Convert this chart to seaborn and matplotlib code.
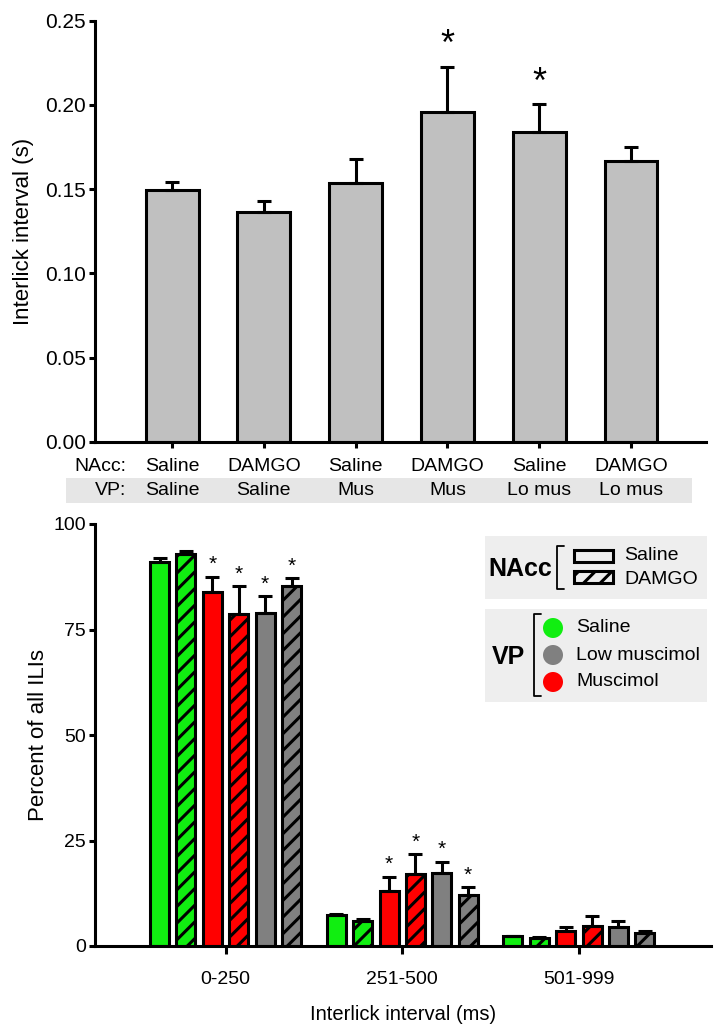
"""
Interlick interval figure: mean ILI per condition (top) and ILI distribution (bottom).
"""
import matplotlib
matplotlib.use("Agg")
import matplotlib.pyplot as plt
import numpy as np
import pandas as pd
import seaborn as sns
from matplotlib.patches import Rectangle, Circle

# ---- top panel data ----
top_nacc = ["Saline", "DAMGO", "Saline", "DAMGO", "Saline", "DAMGO"]
top_vp = ["Saline", "Saline", "Mus", "Mus", "Lo mus", "Lo mus"]
top_mean = [0.1494, 0.1364, 0.1538, 0.1956, 0.1839, 0.1669]
top_sem = [0.0046, 0.0065, 0.0139, 0.0271, 0.0164, 0.0083]
top_sig = [False, False, False, True, True, False]

# ---- bottom panel data ----
bins = ["0-250", "251-500", "501-999"]
cond_names = ["Sal/Sal", "DAMGO/Sal", "Sal/Mus", "DAMGO/Mus", "Sal/Lo", "DAMGO/Lo"]
cond_colors = ["#11ee11", "#11ee11", "#ff0000", "#ff0000", "#808080", "#808080"]
cond_hatched = [False, True, False, True, False, True]
pct_mean = {
    "Sal/Sal": [91.1, 7.3, 2.3],
    "DAMGO/Sal": [92.9, 5.9, 1.9],
    "Sal/Mus": [83.8, 13.1, 3.6],
    "DAMGO/Mus": [78.6, 17.0, 4.8],
    "Sal/Lo": [79.0, 17.2, 4.4],
    "DAMGO/Lo": [85.3, 12.2, 3.1],
}
pct_sem = {
    "Sal/Sal": [0.8, 0.4, 0.15],
    "DAMGO/Sal": [0.8, 0.4, 0.15],
    "Sal/Mus": [3.7, 3.3, 0.8],
    "DAMGO/Mus": [6.7, 4.8, 2.2],
    "Sal/Lo": [3.9, 2.8, 1.6],
    "DAMGO/Lo": [1.8, 1.7, 0.4],
}
pct_sig = {
    "Sal/Sal": [False, False, False],
    "DAMGO/Sal": [False, False, False],
    "Sal/Mus": [True, True, False],
    "DAMGO/Mus": [True, True, False],
    "Sal/Lo": [True, True, False],
    "DAMGO/Lo": [True, True, False],
}

sns.set_theme(style="ticks")
plt.rcParams["font.family"] = ["Liberation Sans", "DejaVu Sans"]
plt.rcParams["hatch.linewidth"] = 2.2
for k in ("text.color", "axes.labelcolor", "xtick.color", "ytick.color"):
    plt.rcParams[k] = "black"
LW = 2.2
HATCH = "//"

fig = plt.figure(figsize=(7.2, 10.3), dpi=100)
ax1 = fig.add_axes([95 / 720, 1 - 441.7 / 1030, 611 / 720, 421 / 1030])
ax2 = fig.add_axes([95 / 720, 1 - 946 / 1030, 616 / 720, 422 / 1030])


def style_axes(ax):
    sns.despine(ax=ax)
    for s in ("left", "bottom"):
        ax.spines[s].set_linewidth(LW)
        ax.spines[s].set_color("black")
    ax.tick_params(axis="both", width=LW, length=4.5, color="black")


# ---- top panel ----
top_df = pd.DataFrame({"cond": [f"{a}\n{b}" for a, b in zip(top_nacc, top_vp)], "ili": top_mean})
sns.barplot(data=top_df, x="cond", y="ili", color="#c0c0c0", width=0.577,
            errorbar=None, edgecolor="black", linewidth=LW, saturation=1, ax=ax1)
for p in ax1.patches:
    p.set_facecolor("#c0c0c0")
xs = np.arange(len(top_mean))
ax1.errorbar(xs, top_mean, yerr=[np.zeros(len(top_sem)), top_sem], fmt="none",
             ecolor="black", elinewidth=LW, capsize=5, capthick=LW, zorder=1)
for x, m, e, s in zip(xs, top_mean, top_sem, top_sig):
    if s:
        ax1.text(x, m + e + 0.002, "*", ha="center", va="bottom", fontsize=26)
ax1.set_xlim(-0.839, 5.817)
ax1.set_ylim(0, 0.25)
ax1.set_yticks([0, 0.05, 0.10, 0.15, 0.20, 0.25])
ax1.set_yticklabels(["0.00", "0.05", "0.10", "0.15", "0.20", "0.25"], fontsize=15)
ax1.set_xticks(xs)
ax1.set_xticklabels([])
ax1.set_xlabel("")
ax1.set_ylabel("Interlick interval (s)", fontsize=16, labelpad=8)
style_axes(ax1)
ax1.tick_params(axis="y", pad=2)

xt = ax1.get_xaxis_transform()
ax1.add_patch(Rectangle((-0.047, -0.145), 1.024, 0.059, transform=ax1.transAxes,
                        facecolor="#e6e6e6", edgecolor="none", clip_on=False, zorder=0))
ax1.text(-0.50, -0.058, "NAcc:", transform=xt, ha="right", va="center", fontsize=14, clip_on=False)
ax1.text(-0.50, -0.117, "VP:", transform=xt, ha="right", va="center", fontsize=14, clip_on=False)
for x, a, b in zip(xs, top_nacc, top_vp):
    ax1.text(x, -0.058, a, transform=xt, ha="center", va="center", fontsize=14, clip_on=False)
    ax1.text(x, -0.117, b, transform=xt, ha="center", va="center", fontsize=14, clip_on=False)

# ---- bottom panel ----
rows = []
for c in cond_names:
    for b, v in zip(bins, pct_mean[c]):
        rows.append({"bin": b, "cond": c, "pct": v})
bot_df = pd.DataFrame(rows)
sns.barplot(data=bot_df, x="bin", y="pct", hue="cond", hue_order=cond_names,
            palette=dict(zip(cond_names, cond_colors)), width=0.896, gap=0.28,
            errorbar=None, saturation=1, legend=False, ax=ax2)
for cont, c, col, h in zip(ax2.containers, cond_names, cond_colors, cond_hatched):
    cx = []
    for p in cont.patches:
        p.set_facecolor(col)
        p.set_edgecolor("black")
        p.set_linewidth(LW)
        if h:
            p.set_hatch(HATCH)
        cx.append(p.get_x() + p.get_width() / 2)
    ax2.errorbar(cx, pct_mean[c], yerr=[np.zeros(3), pct_sem[c]], fmt="none",
                 ecolor="black", elinewidth=LW, capsize=5, capthick=LW, zorder=1)
    for x, m, e, s in zip(cx, pct_mean[c], pct_sem[c], pct_sig[c]):
        if s:
            ax2.text(x, m + e + 0.6, "*", ha="center", va="bottom", fontsize=15)
ax2.set_xlim(-0.739, 2.748)
ax2.set_ylim(0, 100)
ax2.set_yticks([0, 25, 50, 75, 100])
ax2.set_yticklabels(["0", "25", "50", "75", "100"], fontsize=14)
ax2.set_xticks(range(len(bins)))
ax2.set_xticklabels(bins, fontsize=14)
ax2.set_xlabel("Interlick interval (ms)", fontsize=14.5, labelpad=12)
ax2.set_ylabel("Percent of all ILIs", fontsize=16, labelpad=3)
style_axes(ax2)
ax2.tick_params(axis="x", length=6, pad=12)
ax2.tick_params(axis="y", pad=2)

# ---- legend, drawn in figure pixel space ----
lg = fig.add_axes([0, 0, 1, 1], facecolor="none")
lg.set_xlim(0, 720)
lg.set_ylim(1030, 0)
lg.axis("off")
lg.add_patch(Rectangle((485, 536), 222, 63, facecolor="#eeeeee", edgecolor="none"))
lg.add_patch(Rectangle((485, 609), 222, 93, facecolor="#eeeeee", edgecolor="none"))
lg.text(488, 569, "NAcc", fontsize=18, fontweight="bold", va="center", ha="left")
lg.plot([564, 557, 557, 564], [546, 546, 589, 589], color="black", lw=1.3)
lg.add_patch(Rectangle((574, 550), 39, 12, facecolor="none", edgecolor="black", lw=LW))
lg.add_patch(Rectangle((574, 571), 39, 12, facecolor="none", edgecolor="black", lw=LW, hatch=HATCH))
lg.text(624, 555, "Saline", fontsize=14, va="center", ha="left")
lg.text(624, 580, "DAMGO", fontsize=14, va="center", ha="left")
lg.text(492, 657, "VP", fontsize=18, fontweight="bold", va="center", ha="left")
lg.plot([541, 534, 534, 541], [614, 614, 696, 696], color="black", lw=1.3)
vp_labels = ["Saline", "Low muscimol", "Muscimol"]
vp_colors = ["#11ee11", "#808080", "#ff0000"]
for yy, lab, col in zip([628, 655, 682], vp_labels, vp_colors):
    lg.add_patch(Circle((553, yy), 10, facecolor=col, edgecolor="none"))
    lg.text(576, yy, lab, fontsize=14, va="center", ha="left")

fig.savefig("out.png", dpi=100)
